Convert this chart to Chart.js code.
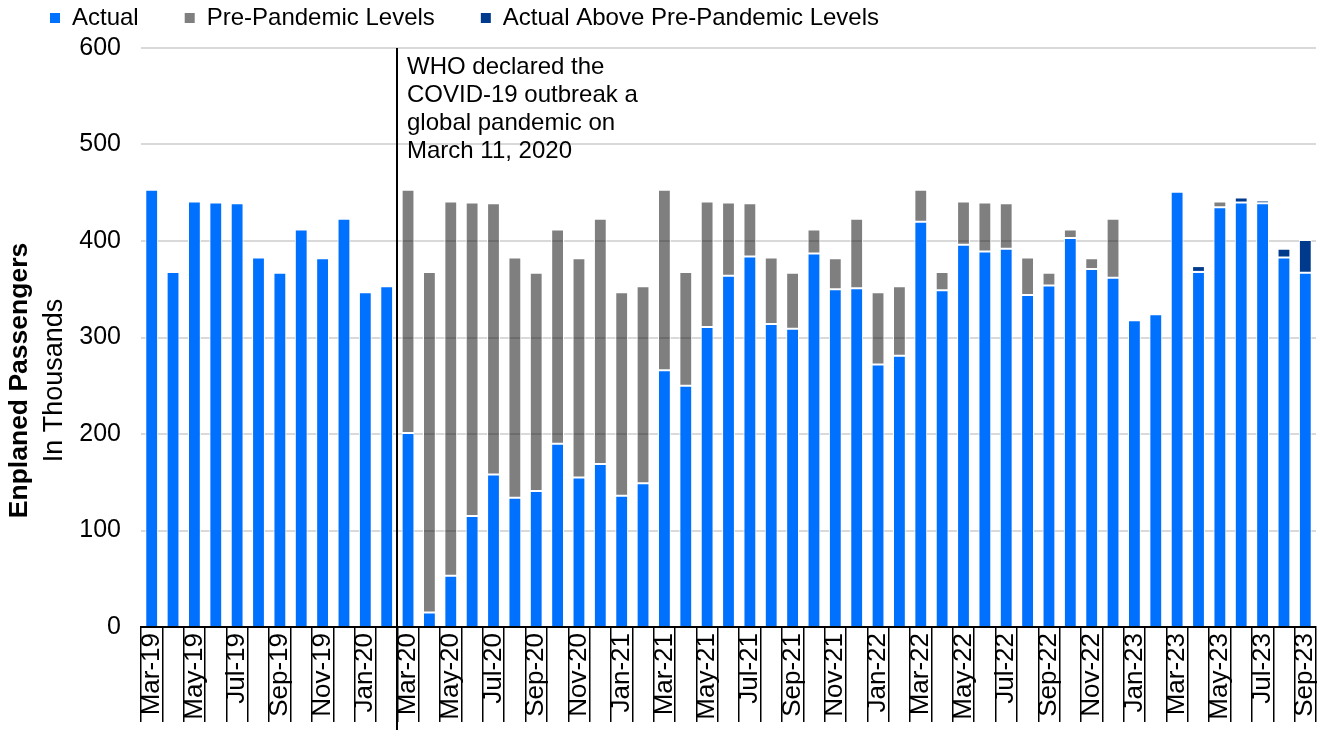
<!DOCTYPE html>
<html>
<head>
<meta charset="utf-8">
<title>Enplaned Passengers</title>
<script src="https://cdn.jsdelivr.net/npm/chart.js@4.4.0/dist/chart.umd.min.js"></script>
<style>
	body { margin: 0; background: #fff; }
	#wrap { width: 1319px; height: 730px; }
</style>
</head>
<body>
<div id="wrap"><canvas id="mycanvas"></canvas></div>
<script>
var months = [
	"Mar-19", "Apr-19", "May-19", "Jun-19", "Jul-19", "Aug-19", "Sep-19", "Oct-19", "Nov-19", "Dec-19",
	"Jan-20", "Feb-20", "Mar-20", "Apr-20", "May-20", "Jun-20", "Jul-20", "Aug-20", "Sep-20", "Oct-20", "Nov-20", "Dec-20",
	"Jan-21", "Feb-21", "Mar-21", "Apr-21", "May-21", "Jun-21", "Jul-21", "Aug-21", "Sep-21", "Oct-21", "Nov-21", "Dec-21",
	"Jan-22", "Feb-22", "Mar-22", "Apr-22", "May-22", "Jun-22", "Jul-22", "Aug-22", "Sep-22", "Oct-22", "Nov-22", "Dec-22",
	"Jan-23", "Feb-23", "Mar-23", "Apr-23", "May-23", "Jun-23", "Jul-23", "Aug-23", "Sep-23"
];

// blue part of each bar (thousands)
var actual = [
	453, 368, 441, 440, 439, 383, 367, 412, 382, 423, 347, 353,
	201, 15, 53, 115, 158, 134, 141, 190, 155, 169, 136, 149,
	266, 250, 311, 364, 384, 314, 309, 387, 350, 351, 272, 281,
	420, 349, 396, 389, 392, 344, 354, 403, 371, 362, 318, 324,
	451, 368, 435, 440, 439, 383, 367
];

// grey part: gap up to pre-pandemic level
var prePandemic = [
	null, null, null, null, null, null, null, null, null, null, null, null,
	252, 353, 388, 325, 281, 249, 226, 222, 227, 254, 211, 204,
	187, 118, 130, 76, 55, 69, 58, 25, 32, 72, 75, 72,
	33, 19, 45, 51, 47, 39, 13, 9, 11, 61, null, null,
	null, null, 6, null, null, null, null
];

// dark blue part: actual above pre-pandemic level
var aboveLevels = [
	null, null, null, null, null, null, null, null, null, null, null, null,
	null, null, null, null, null, null, null, null, null, null, null, null,
	null, null, null, null, null, null, null, null, null, null, null, null,
	null, null, null, null, null, null, null, null, null, null, null, null,
	null, 6, null, 5, 3, 9, 34
];

var yTicks = [0, 100, 200, 300, 400, 500, 600];

var noteLines = ["WHO declared the", "COVID-19 outbreak a", "global pandemic on", "March 11, 2020"];

var FONT = '"Liberation Sans", Arial, sans-serif';

var extras = {
	id: 'extras',
	beforeLayout: function(chart) {
		var lg = chart.legend;
		if (lg && !lg._patched) {
			var fit = lg.fit;
			lg.fit = function() {
				fit.call(this);
				this.height += 8;
			};
			lg._patched = true;
		}
	},
	afterDraw: function(chart) {
		var ctx = chart.ctx;
		var area = chart.chartArea;
		var xs = chart.scales.x;
		var lineX = Math.round((xs.getPixelForValue(11) + xs.getPixelForValue(12)) / 2);

		ctx.save();
		ctx.strokeStyle = '#000';
		ctx.lineWidth = 2;
		ctx.beginPath();
		ctx.moveTo(lineX, area.top);
		ctx.lineTo(lineX, chart.height);
		ctx.stroke();

		ctx.fillStyle = '#000';
		ctx.font = '24px ' + FONT;
		ctx.textAlign = 'left';
		ctx.textBaseline = 'alphabetic';
		for (var i = 0; i < noteLines.length; i++) {
			ctx.fillText(noteLines[i], lineX + 10, area.top + 26 + i * 28);
		}

		// axis title, two lines with different weight
		var midY = (area.top + area.bottom) / 2 + 43;
		ctx.textAlign = 'center';
		ctx.save();
		ctx.translate(27, midY);
		ctx.rotate(-Math.PI / 2);
		ctx.font = 'bold 26.5px ' + FONT;
		ctx.fillText('Enplaned Passengers', 0, 0);
		ctx.restore();
		ctx.save();
		ctx.translate(62, midY);
		ctx.rotate(-Math.PI / 2);
		ctx.font = '27px ' + FONT;
		ctx.fillText('In Thousands', 0, 0);
		ctx.restore();
		ctx.restore();
	}
};

var chartdata = {
	labels: months,
	datasets: [
		{
			label: "Actual",
			backgroundColor: "#0070ff",
			borderColor: "#ffffff",
			borderWidth: 1,
			borderSkipped: 'start',
			barPercentage: 0.6,
			categoryPercentage: 1,
			data: actual
		},
		{
			label: "Pre-Pandemic Levels",
			backgroundColor: "rgba(0, 0, 0, 0.5)",
			borderColor: "#ffffff",
			borderWidth: 1,
			borderSkipped: false,
			barPercentage: 0.6,
			categoryPercentage: 1,
			data: prePandemic
		},
		{
			label: "Actual Above Pre-Pandemic Levels",
			backgroundColor: "#003a8c",
			borderColor: "#ffffff",
			borderWidth: 1,
			borderSkipped: false,
			barPercentage: 0.6,
			categoryPercentage: 1,
			data: aboveLevels
		}
	]
};

var ctx = document.getElementById("mycanvas");

var BarGraph = new Chart(ctx, {
	type: 'bar',
	data: chartdata,
	plugins: [extras],
	options: {
		responsive: true,
		maintainAspectRatio: false,
		animation: false,
		layout: { padding: { left: 44, right: 3, top: 0, bottom: 0 } },
		plugins: {
			tooltip: { enabled: false },
			legend: {
				position: 'top',
				align: 'start',
				labels: {
					boxWidth: 10,
					boxHeight: 10,
					padding: 6,
					color: '#000',
					font: { family: FONT, size: 24 },
					generateLabels: function(chart) {
						var items = Chart.defaults.plugins.legend.labels.generateLabels(chart);
						var gaps = ['      ', '      ', ''];
						items.forEach(function(item, i) {
							item.text = item.text + gaps[i];
							item.lineWidth = 0;
						});
						return items;
					}
				}
			}
		},
		scales: {
			x: {
				stacked: true,
				offset: true,
				afterFit: function(scale) { scale.height = 103; },
				grid: {
					offset: true,
					drawOnChartArea: false,
					drawTicks: true,
					tickLength: 95,
					color: '#000',
					lineWidth: 1.5
				},
				border: { display: true, color: '#000', width: 2 },
				ticks: {
					autoSkip: false,
					minRotation: 90,
					maxRotation: 90,
					padding: -89,
					color: '#000',
					font: { family: FONT, size: 26 },
					callback: function(value, index) {
						return index % 2 === 0 ? months[index] : '';
					}
				}
			},
			y: {
				stacked: true,
				min: yTicks[0],
				max: yTicks[yTicks.length - 1],
				afterFit: function(scale) { scale.width = 97; },
				afterBuildTicks: function(scale) {
					scale.ticks = yTicks.map(function(v) { return { value: v }; });
				},
				grid: {
					color: '#d9d9d9',
					lineWidth: 2,
					drawTicks: false
				},
				border: { display: false },
				ticks: {
					padding: 20,
					color: '#000',
					font: { family: FONT, size: 25 }
				}
			}
		}
	}
});
</script>
</body>
</html>
